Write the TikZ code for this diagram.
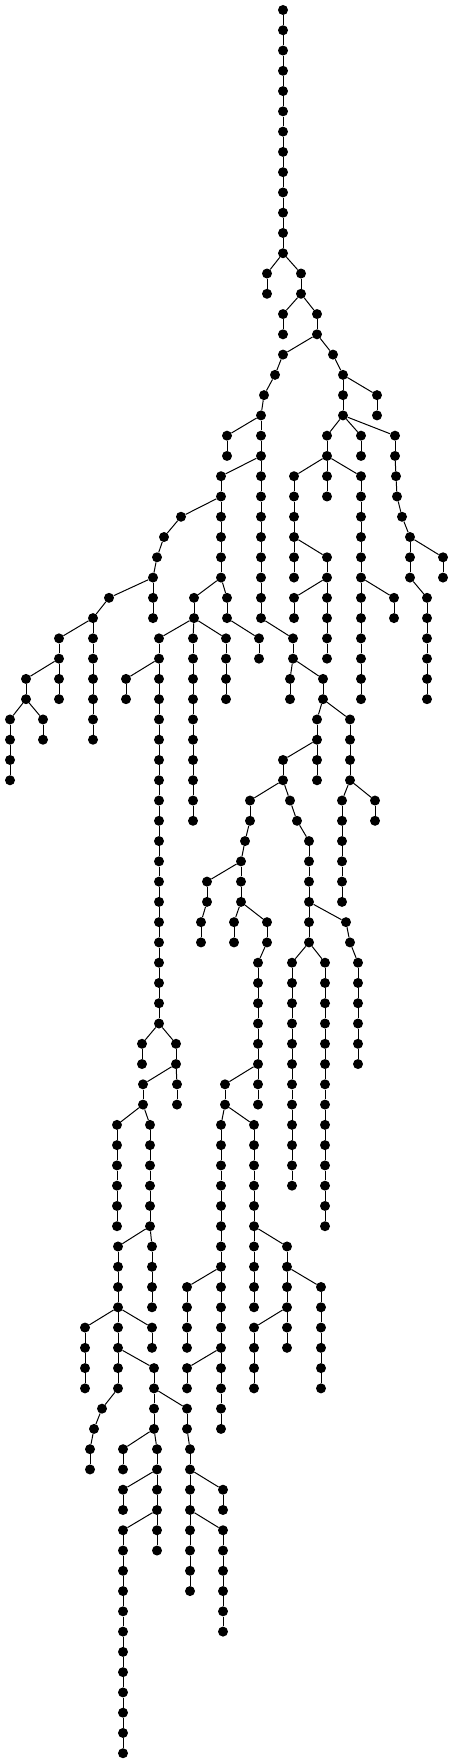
\documentclass[tikz,border=0pt]{standalone}
\begin{document}
\begin{tikzpicture}[x=1pt,y=-20.27pt,
		dot/.style={circle,fill=black,inner sep=0pt,minimum size=10pt},
		edge/.style={black,line width=1pt}]
	\useasboundingbox (0pt,0pt) rectangle (454pt,-1763pt);
	% level/x/parent x : nodes that leave the parent's column
	\def\branches{13/267/283,13/301/283,15/283/301,15/317/301,17/283/317,17/333/317,
		18/275/283,18/343/333,19/264/275,19/377/343,20/261/264,
		21/227/261,21/327/343,21/361/343,21/395/343,
		23/221/261,23/294/327,23/361/327,23/396/395,24/397/396,
		25/181/221,25/402/397,26/164/181,26/410/402,27/157/164,27/327/294,27/443/410,
		28/153/157,29/109/153,29/194/221,29/227/221,29/294/327,29/394/361,29/427/410,
		30/93/109,31/59/93,31/159/194,31/193/194,31/226/194,31/259/227,31/293/261,
		33/26/59,33/126/159,33/290/293,33/323/293,35/10/26,35/43/26,35/317/323,35/350/323,
		37/283/317,39/250/283,39/290/283,39/342/350,39/375/350,40/297/290,
		41/245/250,41/309/297,42/241/245,43/207/241,
		45/201/207,45/234/241,45/267/241,45/346/309,46/350/346,
		47/258/267,47/292/309,47/325/309,47/358/350,51/142/159,51/176/159,
		53/143/176,53/177/176,53/225/258,55/117/143,55/150/143,55/221/225,55/254/225,
		61/118/150,61/152/150,61/287/254,63/187/221,63/321/287,
		65/85/118,65/152/118,65/254/287,67/154/118,67/187/221,
		69/102/118,69/187/154,70/94/102,71/90/94,71/123/154,71/157/154,71/190/187,
		73/123/157,73/223/190,75/123/157,75/223/190}
	% x/first level/last level : straight runs
	\def\chains{283/1/12,267/14/14,301/14/14,283/16/16,317/16/16,343/19/20,377/20/20,
		261/21/30,227/22/22,327/22/24,361/22/22,395/22/22,221/24/28,294/24/28,361/24/34,
		410/27/28,443/28/28,327/28/32,153/29/30,93/31/36,194/30/30,227/30/30,294/30/30,
		394/30/30,427/30/34,59/32/34,159/32/50,193/32/40,226/32/34,259/32/32,293/32/32,
		26/34/34,126/34/34,290/34/34,323/34/34,10/36/38,43/36/36,317/36/38,350/36/38,
		283/38/38,250/40/40,342/40/44,375/40/40,309/42/46,241/43/44,207/44/44,
		201/46/46,234/46/46,267/46/46,258/48/54,292/48/58,325/48/60,358/48/52,
		142/52/52,176/52/52,143/54/54,177/54/54,225/54/54,117/56/60,150/56/60,
		221/56/70,254/56/64,118/62/68,152/62/64,287/62/66,187/64/66,321/64/68,
		152/66/66,254/66/68,85/66/68,187/68/68,154/68/70,187/70/70,
		90/72/72,123/72/72,157/72/76,190/72/78,123/74/74,223/74/74,123/76/86,223/76/80}
	\begin{scope}[yshift=-10pt]
		\node[dot] (n0-283) at (283,0) {};%root
		\foreach \l/\x/\px in \branches{
			\node[dot] (n\l-\x) at (\x,\l) {};
		}
		\foreach \x/\a/\b in \chains{
			\foreach \l in {\a,...,\b}{
				\node[dot] (n\l-\x) at (\x,\l) {};
			}
		}
		% edges
		\foreach \l/\x/\px [evaluate=\l as \pl using int(\l-1)] in \branches{
			\draw[edge] (n\pl-\px) -- (n\l-\x);
		}
		\foreach \x/\a/\b in \chains{
			\foreach \l [evaluate=\l as \pl using int(\l-1)] in {\a,...,\b}{
				\draw[edge] (n\pl-\x) -- (n\l-\x);
			}
		}
	\end{scope}
\end{tikzpicture}
\end{document}
